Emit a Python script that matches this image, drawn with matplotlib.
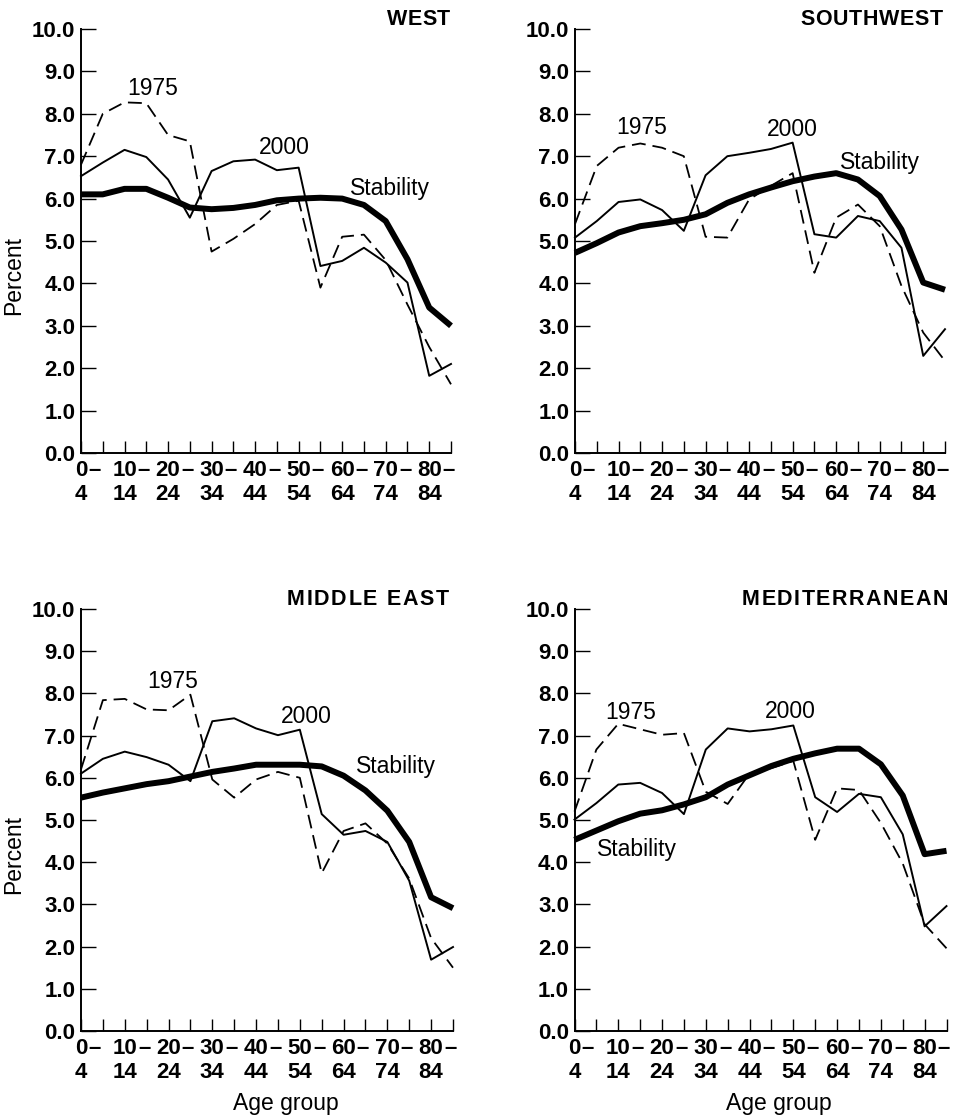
import matplotlib
matplotlib.use('Agg')
import matplotlib.pyplot as plt
import matplotlib.transforms as mtransforms
import numpy as np

plt.rcParams['font.family'] = ['Liberation Sans', 'DejaVu Sans']
plt.rcParams['lines.scale_dashes'] = False

# ---------------- data ----------------
age_groups = ['0-4', '5-9', '10-14', '15-19', '20-24', '25-29', '30-34', '35-39', '40-44',
              '45-49', '50-54', '55-59', '60-64', '65-69', '70-74', '75-79', '80-84', '85+']
tick_first = ['0', '10', '20', '30', '40', '50', '60', '70', '80']
tick_second = ['4', '14', '24', '34', '44', '54', '64', '74', '84']
y_ticks = [0.0, 1.0, 2.0, 3.0, 4.0, 5.0, 6.0, 7.0, 8.0, 9.0, 10.0]
regions = ['WEST', 'SOUTHWEST', 'MIDDLE EAST', 'MEDITERRANEAN']

west_1975 = [6.8, 8.0, 8.27, 8.25, 7.5, 7.35, 4.75, 5.05, 5.4, 5.85, 5.95, 3.9, 5.1, 5.15, 4.55, 3.5, 2.5, 1.62]
west_2000 = [6.53, 6.85, 7.15, 6.98, 6.45, 5.55, 6.65, 6.88, 6.92, 6.67, 6.73, 4.41, 4.53, 4.84, 4.49, 4.02, 1.82, 2.1]
west_stab = [6.1, 6.1, 6.23, 6.23, 6.02, 5.79, 5.75, 5.78, 5.85, 5.96, 6.0, 6.02, 6.0, 5.85, 5.47, 4.57, 3.43, 3.0]

sw_1975 = [5.4, 6.77, 7.2, 7.3, 7.2, 7.0, 5.1, 5.08, 5.98, 6.3, 6.6, 4.25, 5.55, 5.86, 5.35, 3.94, 2.84, 2.17]
sw_2000 = [5.08, 5.47, 5.92, 5.98, 5.73, 5.24, 6.55, 7.0, 7.08, 7.17, 7.32, 5.16, 5.08, 5.59, 5.47, 4.84, 2.29, 2.92]
sw_stab = [4.72, 4.95, 5.2, 5.35, 5.42, 5.5, 5.63, 5.9, 6.1, 6.26, 6.41, 6.52, 6.6, 6.45, 6.06, 5.27, 4.02, 3.85]

me_1975 = [6.2, 7.84, 7.87, 7.62, 7.6, 7.97, 5.96, 5.53, 5.96, 6.14, 6.0, 3.74, 4.74, 4.92, 4.44, 3.61, 2.2, 1.5]
me_2000 = [6.1, 6.45, 6.62, 6.49, 6.31, 5.92, 7.34, 7.41, 7.17, 7.01, 7.14, 5.14, 4.65, 4.74, 4.48, 3.56, 1.69, 1.99]
me_stab = [5.53, 5.65, 5.75, 5.85, 5.92, 6.03, 6.14, 6.22, 6.31, 6.31, 6.31, 6.27, 6.05, 5.7, 5.22, 4.48, 3.17, 2.91]

med_1975 = [5.2, 6.67, 7.28, 7.15, 7.02, 7.06, 5.67, 5.38, 6.1, 6.23, 6.4, 4.53, 5.75, 5.71, 4.93, 3.97, 2.53, 1.96]
med_2000 = [5.01, 5.4, 5.84, 5.88, 5.64, 5.14, 6.67, 7.17, 7.1, 7.15, 7.24, 5.54, 5.19, 5.62, 5.54, 4.66, 2.48, 2.96]
med_stab = [4.53, 4.75, 4.97, 5.15, 5.23, 5.37, 5.54, 5.84, 6.06, 6.28, 6.45, 6.58, 6.69, 6.69, 6.32, 5.58, 4.19, 4.27]

series_1975 = [west_1975, sw_1975, me_1975, med_1975]
series_2000 = [west_2000, sw_2000, me_2000, med_2000]
series_stab = [west_stab, sw_stab, me_stab, med_stab]

# ---------------- layout ----------------
W, H = 969, 1118
FS_TICK = 16
FS_ANN = 16.5
FS_LAB = 16.5
FS_TITLE = 15.5
fig = plt.figure(figsize=(W / 100, H / 100), dpi=100)
renderer = fig.canvas.get_renderer()

# axes rectangles in pixels: left, right, top(y of 10.0), bottom(y of 0.0)
rects_px = [(81, 451, 29, 453), (575, 945, 29, 453),
            (81, 453, 609, 1031), (574.5, 946.5, 609, 1031)]

# annotation positions (data coords)
lab_1975 = [(3.3, 8.6), (3.05, 7.67), (4.2, 8.28), (2.55, 7.54)]
lab_2000 = [(9.35, 7.2), (10.0, 7.63), (10.3, 7.45), (9.85, 7.58)]
lab_stab = [(14.2, 6.25), (14.0, 6.85), (14.4, 6.27), (2.85, 4.3)]
title_pos = [(16.95, 10.1), (16.9, 10.1), (16.8, 10.1), (17.07, 10.1)]
title_spacing = [0.3, 0.5, 1.2, 1.1]  # points between letters


def spaced_text(ax, xd, yd, s, spacing_pt, **kw):
    offset = 0.0
    for ch in reversed(s):
        tr = mtransforms.offset_copy(ax.transData, fig=fig, x=-offset, y=0, units='points')
        if ch == ' ':
            offset += 0.278 * kw.get('fontsize', 12) + spacing_pt
            continue
        t = ax.text(xd, yd, ch, transform=tr, ha='right', va='baseline', **kw)
        w = t.get_window_extent(renderer).width * 72.0 / fig.dpi
        offset += w + spacing_pt


x = np.arange(len(age_groups))

for i in range(4):
    l, r, t, b = rects_px[i]
    ax = fig.add_axes([l / W, (H - b) / H, (r - l) / W, (b - t) / H])
    ax.plot(x, series_1975[i], color='black', lw=1.3, dashes=(10, 5), clip_on=False)
    ax.plot(x, series_2000[i], color='black', lw=1.4, clip_on=False)
    ax.plot(x, series_stab[i], color='black', lw=4.3, clip_on=False,
            solid_joinstyle='round', solid_capstyle='butt')
    ax.set_xlim(0, len(age_groups) - 1)
    ax.set_ylim(0, 10)
    for s in ['top', 'right']:
        ax.spines[s].set_visible(False)
    for s in ['left', 'bottom']:
        ax.spines[s].set_linewidth(1.4)

    ax.set_yticks(y_ticks)
    ax.set_yticklabels([f'{v:.1f}' for v in y_ticks])
    ax.tick_params(axis='y', direction='in', length=11, width=1.0, pad=4,
                   labelsize=FS_TICK)

    labels = []
    for k in range(len(age_groups)):
        if k % 2 == 0 and k // 2 < len(tick_first):
            labels.append(tick_first[k // 2] + '\n' + tick_second[k // 2])
        else:
            labels.append('')
    ax.set_xticks(x)
    ax.set_xticklabels(labels)
    ax.tick_params(axis='x', direction='in', length=9, width=1.0, pad=5,
                   labelsize=FS_TICK)
    for lbl in ax.get_yticklabels() + ax.get_xticklabels():
        lbl.set_fontweight('bold')

    # dashes after the first-line numbers
    for j, num in enumerate(tick_first):
        off = len(num) * 0.556 * FS_TICK / 2 + 0.6
        ax.annotate('–', xy=(2 * j, 0), xycoords='data',
                    xytext=(off, -5), textcoords='offset points',
                    ha='left', va='top', fontsize=FS_TICK, fontweight='bold',
                    annotation_clip=False)

    ax.text(*lab_1975[i], '1975', ha='center', va='center', fontsize=FS_ANN)
    ax.text(*lab_2000[i], '2000', ha='center', va='center', fontsize=FS_ANN)
    ax.text(*lab_stab[i], 'Stability', ha='center', va='center', fontsize=FS_ANN)
    spaced_text(ax, title_pos[i][0], title_pos[i][1], regions[i], title_spacing[i],
                fontsize=FS_TITLE, fontweight='bold')

    if i % 2 == 0:
        ax.set_ylabel('Percent', fontsize=FS_LAB)
        ax.yaxis.set_label_coords(-0.15, 0.418)
    if i >= 2:
        ax.set_xlabel('Age group', fontsize=FS_LAB)
        ax.xaxis.set_label_coords(0.55, -0.145)

fig.savefig('out.png', dpi=100, facecolor='white')
